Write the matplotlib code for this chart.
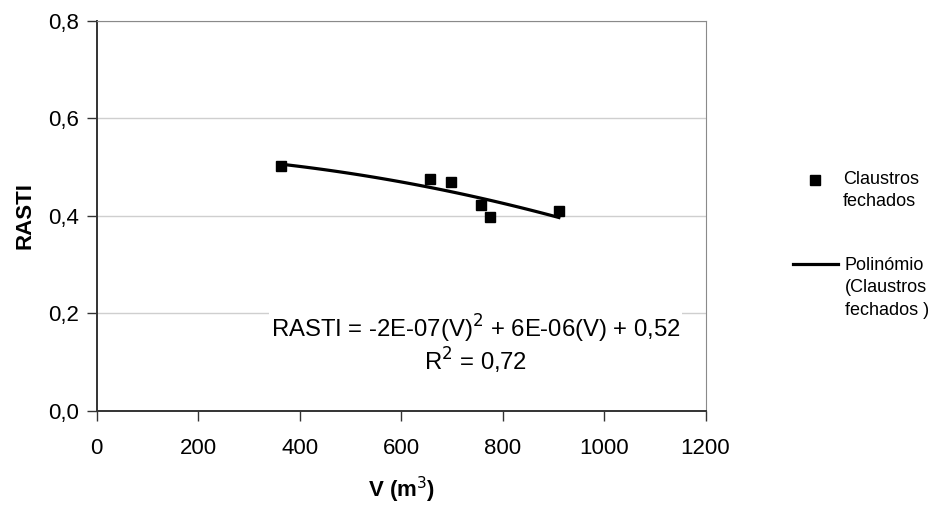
"""RASTI vs volume, claustros fechados, with quadratic trendline."""

import matplotlib
matplotlib.use("Agg")
import matplotlib.pyplot as plt
import numpy as np
from matplotlib.lines import Line2D
from matplotlib.ticker import FuncFormatter

plt.rcParams["font.family"] = ["Liberation Sans", "DejaVu Sans"]

# data
volume = [364, 657, 698, 757, 775, 911]
rasti = [0.502, 0.475, 0.470, 0.422, 0.398, 0.410]
x_ticks = [0, 200, 400, 600, 800, 1000, 1200]
y_ticks = [0.0, 0.2, 0.4, 0.6, 0.8]
equation = "RASTI = -2E-07(V)$^{2}$ + 6E-06(V) + 0,52"
r2_text = "R$^{2}$ = 0,72"
legend_labels = ["Claustros\nfechados", "Polinómio\n(Claustros\nfechados )"]

W, H = 942, 507
fig = plt.figure(figsize=(W / 100, H / 100), dpi=100)
ax = fig.add_axes([96.7 / W, 1 - 410.7 / H, 608.8 / W, 390 / H])

# trendline: 2nd order polynomial through the points
coef = np.polyfit(volume, rasti, 2)
vv = np.linspace(min(volume), max(volume), 100)
ax.plot(vv, np.polyval(coef, vv), color="black", lw=2.3, zorder=3)
ax.plot(volume, rasti, "s", color="black", ms=7.8, zorder=4)

ax.set_xlim(0, 1200)
ax.set_ylim(0, 0.8)
ax.set_xticks(x_ticks)
ax.set_yticks(y_ticks)
ax.yaxis.set_major_formatter(FuncFormatter(lambda v, _: f"{v:.1f}".replace(".", ",")))
ax.grid(axis="y", color="#cfcfcf", lw=1)
ax.set_axisbelow(True)
for s in ("top", "right"):
    ax.spines[s].set_color("#8a8a8a")
for s in ("left", "bottom"):
    ax.spines[s].set_color("#333333")
    ax.spines[s].set_linewidth(1.4)
ax.tick_params(direction="out", length=7, width=1, colors="#333333",
               labelcolor="black", labelsize=16)
ax.tick_params(axis="y", pad=6)
ax.tick_params(axis="x", pad=13)

ax.set_xlabel("V (m$^{3}$)", fontsize=16, fontweight="bold", labelpad=11)
ax.set_ylabel("RASTI", fontsize=16, fontweight="bold", labelpad=9)

ax.text(747, 0.168, equation, ha="center", va="center", fontsize=17.2,
        bbox=dict(facecolor="white", edgecolor="none", pad=1), zorder=5)
ax.text(747, 0.102, r2_text, ha="center", va="center", fontsize=17.2, zorder=5)

# legend drawn in figure pixels, handle level with the first text line
fig.add_artist(Line2D([815 / W], [1 - 180 / H], marker="s", color="black",
                      ls="none", ms=7, transform=fig.transFigure))
fig.add_artist(Line2D([793 / W, 838 / W], [1 - 264 / H] * 2, color="black",
                      lw=2.3, transform=fig.transFigure))
fig.text(843 / W, 1 - 171 / H, legend_labels[0], ha="left", va="top",
         fontsize=13, linespacing=1.42)
fig.text(845 / W, 1 - 257 / H, legend_labels[1], ha="left", va="top",
         fontsize=13, linespacing=1.42)

plt.savefig("out.png", dpi=100)
plt.close()
